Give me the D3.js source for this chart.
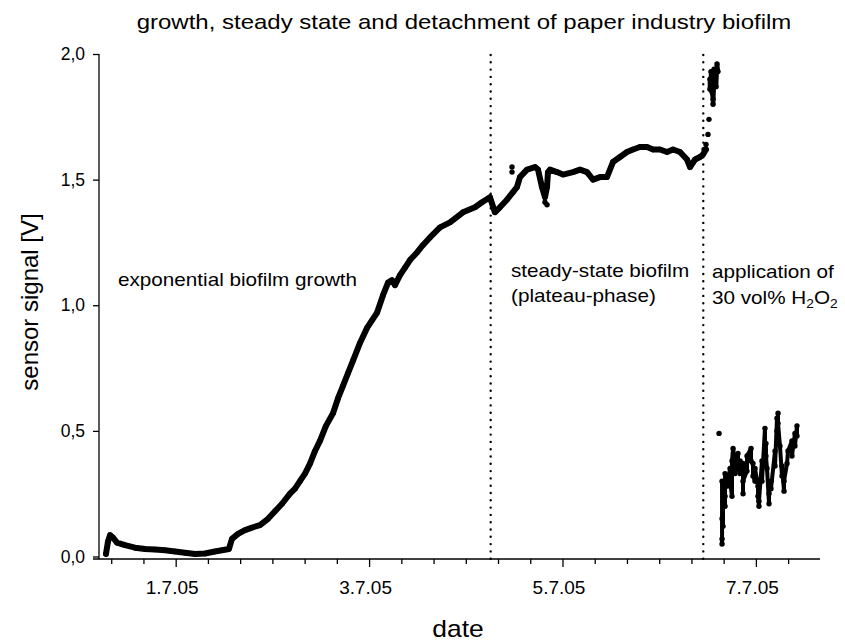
<!DOCTYPE html>
<html><head><meta charset="utf-8">
<script src="https://cdn.jsdelivr.net/npm/d3@7"></script>
<style>body{margin:0;background:#fff}svg{display:block}text{font-family:"Liberation Sans",Arial,sans-serif;fill:#000}</style>
</head><body>
<svg id="c" width="845" height="641"></svg>
<script>
// time in days of July 2005 (fractional), signal in V
const days = [0.279,0.300,0.321,0.352,0.393,0.476,0.579,0.683,0.786,0.889,0.993,1.096,1.200,1.303,1.406,1.479,1.551,1.582,1.644,1.717,1.789,1.872,1.955,2.027,2.100,2.182,2.234,2.285,2.337,2.389,2.441,2.492,2.554,2.627,2.679,2.731,2.782,2.834,2.906,2.979,3.030,3.082,3.144,3.196,3.237,3.268,3.320,3.372,3.423,3.496,3.558,3.630,3.733,3.837,3.971,4.095,4.168,4.250,4.301,4.353,4.426,4.488,4.529,4.560,4.633,4.716,4.747,4.788,4.819,4.840,4.850,4.871,4.943,5.005,5.109,5.181,5.254,5.316,5.388,5.460,5.522,5.595,5.667,5.729,5.801,5.874,5.936,6.008,6.081,6.143,6.215,6.288,6.319,6.371,6.422,6.453,6.484];
const signal = [0.01,0.06,0.085,0.075,0.055,0.045,0.035,0.03,0.028,0.025,0.02,0.015,0.01,0.012,0.02,0.025,0.03,0.07,0.09,0.105,0.115,0.125,0.15,0.18,0.21,0.25,0.27,0.30,0.33,0.37,0.42,0.46,0.52,0.57,0.63,0.68,0.73,0.78,0.85,0.91,0.94,0.97,1.04,1.09,1.10,1.08,1.12,1.15,1.18,1.21,1.24,1.27,1.31,1.33,1.37,1.39,1.41,1.43,1.37,1.39,1.42,1.45,1.47,1.51,1.54,1.55,1.54,1.47,1.43,1.47,1.53,1.54,1.53,1.52,1.53,1.54,1.53,1.50,1.51,1.51,1.57,1.59,1.61,1.62,1.63,1.63,1.62,1.62,1.61,1.62,1.61,1.58,1.55,1.58,1.59,1.60,1.62];
// isolated readings in the steady-state phase
const outlierDays = [4.478,4.478,4.840,4.819];
const outlierSignal = [1.55,1.53,1.40,1.41];
// readings after the peroxide dose: jump up, then drop
const jumpDays = [6.464,6.484,6.505,6.515,6.525,6.525,6.536,6.536,6.546,6.546,6.557,6.557,6.567,6.567,6.577,6.588,6.598,6.608];
const jumpSignal = [1.62,1.64,1.68,1.74,1.86,1.90,1.88,1.93,1.92,1.85,1.82,1.80,1.89,1.94,1.91,1.87,1.96,1.93];
const dropDays = [6.619,6.650,6.650,6.650,6.650,6.660,6.660,6.660,6.681,6.681,6.681,6.702,6.702,6.733,6.733,6.753,6.753,6.764,6.784,6.784,6.815,6.815,6.836,6.836,6.867,6.867,6.867,6.908,6.908,6.950,6.950,6.970,6.970,6.991,6.991,7.022,7.022,7.032,7.032,7.063,7.063,7.094,7.094,7.104,7.104,7.115,7.136,7.136,7.156,7.156,7.198,7.198,7.218,7.218,7.229,7.229,7.249,7.270,7.270,7.291,7.291,7.322,7.332,7.373,7.373,7.404,7.404,7.425,7.425];
const dropSignal = [0.49,0.05,0.07,0.15,0.30,0.22,0.12,0.27,0.24,0.20,0.33,0.32,0.28,0.35,0.30,0.24,0.38,0.43,0.38,0.33,0.41,0.36,0.33,0.38,0.37,0.25,0.30,0.34,0.40,0.43,0.38,0.37,0.32,0.30,0.35,0.28,0.24,0.20,0.22,0.38,0.30,0.51,0.42,0.45,0.40,0.35,0.21,0.25,0.30,0.27,0.42,0.36,0.55,0.50,0.57,0.53,0.44,0.32,0.36,0.26,0.30,0.37,0.42,0.46,0.40,0.49,0.44,0.52,0.48];
const phaseLines = [4.2575, 6.456];
const majorTicks = [1,3,5,7];
const majorLabels = ["1.7.05","3.7.05","5.7.05","7.7.05"];
const yTicks = [0,0.5,1,1.5,2];
const yLabels = ["0,0","0,5","1,0","1,5","2,0"];

const svg = d3.select("#c");
const x = d3.scaleLinear().domain([0.207, 7.663]).range([99, 820]);
const y = d3.scaleLinear().domain([0, 2]).range([556.5, 54]);
const axisY = 559;
const SX = 1.15;
const FONT = '"Liberation Sans",Arial,sans-serif';

function txt(g, s, px, py, size, anchor, sx){
  return g.append("text").attr("transform",`translate(${px},${py}) scale(${sx||SX},1)`)
    .attr("text-anchor",anchor||"start").attr("font-size",size).text(s);
}

// title
txt(svg,"growth, steady state and detachment of paper industry biofilm",464,29,20,"middle",1.2);

// axes
svg.append("line").attr("x1",99).attr("x2",99).attr("y1",54).attr("y2",axisY).attr("stroke","#000").attr("stroke-width",1.3);
svg.append("line").attr("x1",93).attr("x2",820).attr("y1",axisY).attr("y2",axisY).attr("stroke","#000").attr("stroke-width",1.3);
const yAxis = d3.axisLeft(y).tickValues(yTicks).tickSize(6).tickFormat((d,i)=>yLabels[i]);
const gy = svg.append("g").attr("transform","translate(99,0)").call(yAxis);
gy.select(".domain").remove();
gy.selectAll("line").attr("stroke-width",1.3);
gy.selectAll("text").attr("font-size",17.5).attr("x",-14).attr("font-family",FONT);

const minorTicks = d3.range(1,23).map(i=>i/3).filter(v=>!majorTicks.some(m=>Math.abs(m-v)<1e-6));
const gxMinor = svg.append("g").attr("transform",`translate(0,${axisY})`)
  .call(d3.axisBottom(x).tickValues(minorTicks).tickSize(5).tickFormat(""));
gxMinor.select(".domain").remove();
gxMinor.selectAll("line").attr("stroke-width",1.3);
const gx = svg.append("g").attr("transform",`translate(0,${axisY})`)
  .call(d3.axisBottom(x).tickValues(majorTicks).tickSize(8).tickFormat((d,i)=>majorLabels[i]));
gx.select(".domain").remove();
gx.selectAll("line").attr("stroke-width",1.3);
gx.selectAll("text").attr("font-size",19).attr("dy",null).attr("y",35).attr("dx",-4).attr("font-family",FONT);

// axis titles
txt(svg,"date",458,637,23,"middle",1.15);
svg.append("text").attr("transform","translate(38,302) rotate(-90)").attr("text-anchor","middle")
  .attr("font-size",24).text("sensor signal [V]");

// phase separators
svg.selectAll("line.phase").data(phaseLines).enter().append("line").attr("class","phase")
  .attr("x1",d=>x(d)).attr("x2",d=>x(d)).attr("y1",y(2)+1).attr("y2",axisY)
  .attr("stroke","#000").attr("stroke-width",2.4).attr("stroke-linecap","round").attr("stroke-dasharray","0,7.3");

// data
const pts = days.map((d,i)=>[d,signal[i]]);
svg.append("path").datum(pts).attr("fill","none").attr("stroke","#000").attr("stroke-width",6)
  .attr("stroke-linejoin","round").attr("stroke-linecap","round")
  .attr("d",d3.line().x(d=>x(d[0])).y(d=>y(d[1])));
const drop = dropDays.map((d,i)=>[d,dropSignal[i]]);
svg.append("path").datum(drop.slice(1)).attr("fill","none").attr("stroke","#000").attr("stroke-width",4)
  .attr("stroke-linejoin","round").attr("stroke-linecap","round")
  .attr("d",d3.line().x(d=>x(d[0])).y(d=>y(d[1])));
const jump = jumpDays.map((d,i)=>[d,jumpSignal[i]]);
svg.append("path").datum(jump.slice(4)).attr("fill","none").attr("stroke","#000").attr("stroke-width",4.5)
  .attr("stroke-linejoin","round").attr("stroke-linecap","round")
  .attr("d",d3.line().x(d=>x(d[0])).y(d=>y(d[1])));
const allPts = pts.concat(outlierDays.map((d,i)=>[d,outlierSignal[i]]), jump, drop);
svg.append("g").selectAll("circle").data(allPts).enter().append("circle")
  .attr("cx",d=>x(d[0])).attr("cy",d=>y(d[1])).attr("r",2.7).attr("fill","#000");

// annotations
txt(svg,"exponential biofilm growth",118,286,18,"start");
txt(svg,"steady-state biofilm",511,277,18,"start");
txt(svg,"(plateau-phase)",511,302,18,"start");
txt(svg,"application of",712,278,18,"start");
const t = svg.append("text").attr("transform","translate(712,304) scale(1.15,1)").attr("font-size",18);
t.append("tspan").text("30 vol% H");
t.append("tspan").attr("font-size",12).attr("dy",4).text("2");
t.append("tspan").attr("dy",-4).text("O");
t.append("tspan").attr("font-size",12).attr("dy",4).text("2");
</script>
</body></html>
